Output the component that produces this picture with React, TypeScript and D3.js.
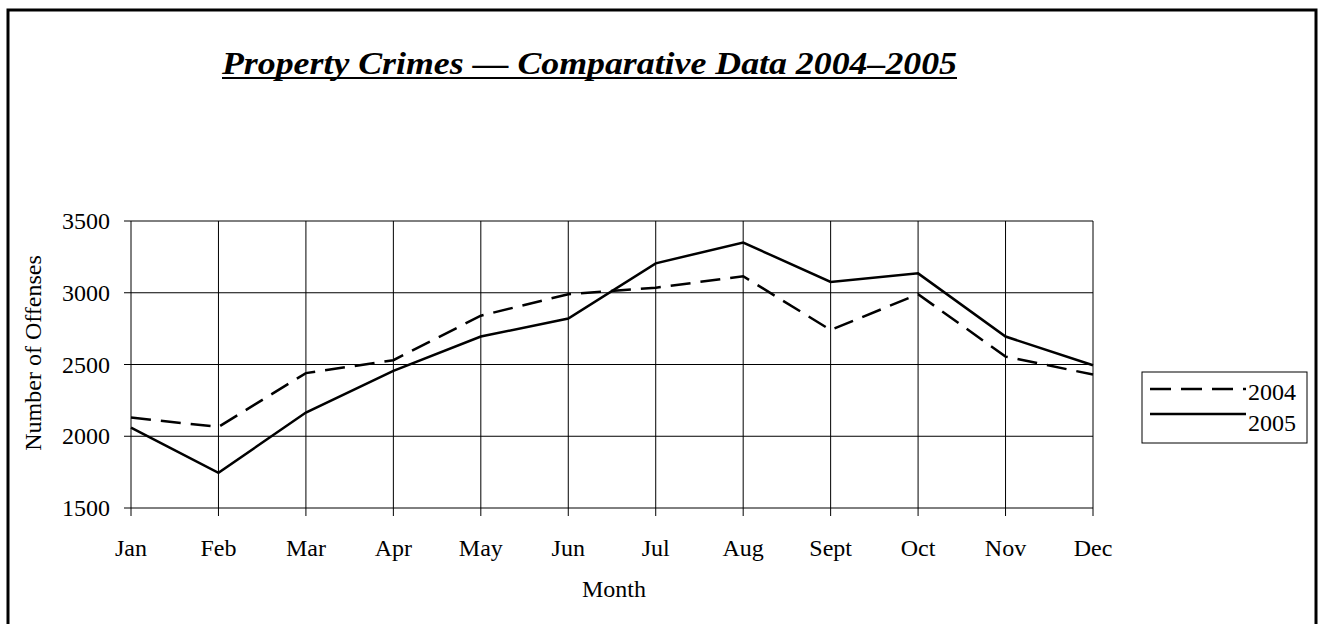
import React from "react";
import * as d3 from "d3";

const months = ["Jan", "Feb", "Mar", "Apr", "May", "Jun", "Jul", "Aug", "Sept", "Oct", "Nov", "Dec"];
const values2004 = [2130, 2065, 2440, 2530, 2840, 2990, 3035, 3115, 2740, 2990, 2555, 2430];
const values2005 = [2060, 1745, 2165, 2455, 2695, 2820, 3205, 3350, 3075, 3135, 2695, 2495];
const yTicks = [1500, 2000, 2500, 3000, 3500];
const seriesNames = ["2004", "2005"];

const FONT = "Liberation Serif";

export default function App() {
  const W = 1319;
  const H = 624;
  const left = 131;
  const right = 1093;
  const top = 221;
  const bottom = 508;

  const x = d3.scalePoint<string>().domain(months).range([left, right]);
  const y = d3.scaleLinear().domain([1500, 3500]).range([bottom, top]);

  const line = d3
    .line<number>()
    .x((_, i) => x(months[i]) as number)
    .y((d) => y(d));

  const series = [
    { name: seriesNames[0], values: values2004, dash: "20,10" },
    { name: seriesNames[1], values: values2005, dash: undefined as string | undefined },
  ];

  const ts = { fontFamily: FONT };

  return (
    <svg
      width={W}
      height={H}
      style={{ position: "absolute", left: 0, top: 0, background: "#fff" }}
    >
      <rect x={0} y={0} width={W} height={H} fill="#fff" />
      <rect x={8} y={10} width={1308} height={640} fill="none" stroke="#000" strokeWidth={3} />

      <text
        x={222}
        y={74}
        fontSize={32}
        fontWeight="bold"
        fontStyle="italic"
        textLength={735}
        lengthAdjust="spacingAndGlyphs"
        fill="#000"
        style={ts}
      >
        Property Crimes — Comparative Data 2004–2005
      </text>
      <line x1={222} x2={957} y1={78} y2={78} stroke="#000" strokeWidth={2} />

      {yTicks.map((t) => (
        <g key={t}>
          <line x1={left - 7} x2={right} y1={y(t)} y2={y(t)} stroke="#000" strokeWidth={1} />
          <text x={110} y={y(t) + 8} fontSize={24} textAnchor="end" fill="#000" style={ts}>
            {t}
          </text>
        </g>
      ))}

      {months.map((m) => (
        <g key={m}>
          <line
            x1={x(m) as number}
            x2={x(m) as number}
            y1={top}
            y2={bottom + 8}
            stroke="#000"
            strokeWidth={1}
          />
          <text x={x(m) as number} y={556} fontSize={24} textAnchor="middle" fill="#000" style={ts}>
            {m}
          </text>
        </g>
      ))}

      <text x={614} y={597} fontSize={24} textAnchor="middle" fill="#000" style={ts}>
        Month
      </text>
      <text
        transform={`translate(41,353) rotate(-90)`}
        fontSize={24}
        textAnchor="middle"
        fill="#000"
        style={ts}
      >
        Number of Offenses
      </text>

      {series.map((s) => (
        <path
          key={s.name}
          d={line(s.values) || ""}
          fill="none"
          stroke="#000"
          strokeWidth={2.5}
          strokeDasharray={s.dash}
        />
      ))}

      <rect x={1142} y={372} width={165} height={71} fill="#fff" stroke="#000" strokeWidth={1} />
      {series.map((s, i) => {
        const ly = 389 + i * 25;
        return (
          <g key={s.name}>
            <line
              x1={1150}
              x2={1246}
              y1={ly}
              y2={ly}
              stroke="#000"
              strokeWidth={2.5}
              strokeDasharray={s.dash ? "21,10" : undefined}
            />
            <text x={1248} y={400 + i * 31} fontSize={24} fill="#000" style={ts}>
              {s.name}
            </text>
          </g>
        );
      })}
    </svg>
  );
}
